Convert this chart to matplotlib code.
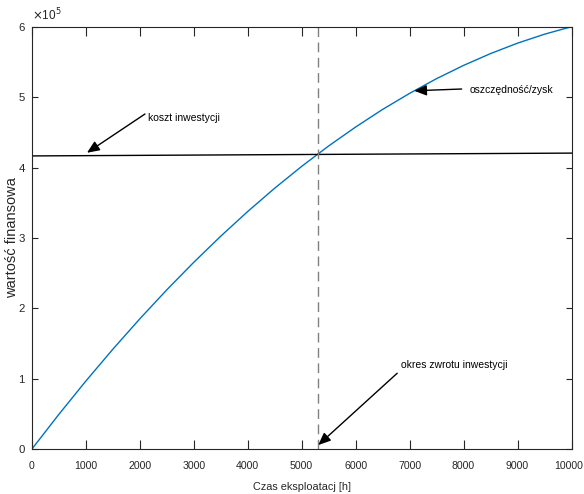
import numpy as np
from matplotlib import pyplot as plt
from matplotlib import transforms

# ===== DATA =====
hours = [0, 500, 1000, 1500, 2000, 2500, 3000, 3500, 4000, 4500, 5000,
         5500, 6000, 6500, 7000, 7500, 8000, 8500, 9000, 9500, 10000]
savings = [0, 49300, 96600, 141800, 185000, 226200, 265300, 302400, 337500,
           370600, 401600, 430600, 457500, 482500, 505300, 526200, 545000,
           561800, 576600, 589300, 600000]
cost_hours = [0, 10000]
cost = [416500, 420500]
payback = 5300

xticks = np.arange(0, 10001, 1000)
yticks = np.arange(0, 600001, 100000)
ylabels = ["0", "1", "2", "3", "4", "5", "6"]

plt.rcParams['font.family'] = ['Liberation Sans', 'DejaVu Sans']
axcol = "#262626"

fig = plt.figure(figsize=(5.84, 4.94), dpi=100)
ax = fig.add_axes([0.0543, 0.0905, 0.9243, 0.8555])

ax.plot(hours, savings, color="#0072BD", lw=1)
ax.plot(cost_hours, cost, color="black", lw=1)
ax.plot([payback, payback], [0, 600000], color="#808080", lw=1, ls=(0, (7, 4)))

ax.set_xlim(0, 10000)
ax.set_ylim(0, 600000)
ax.set_xticks(xticks)
ax.set_yticks(yticks)
ax.set_yticklabels(ylabels)
ax.tick_params(direction="in", top=True, right=True, colors=axcol)
ax.tick_params(axis="x", length=6.5, width=0.8, pad=8.5, labelsize=7.6)
ax.tick_params(axis="y", length=4, width=0.8, pad=5, labelsize=8.2)
for s in ax.spines.values():
    s.set_color(axcol)
    s.set_linewidth(0.8)

# keep the last x tick label inside the figure
last = ax.get_xticklabels()[-1]
last.set_transform(last.get_transform() + transforms.ScaledTranslation(-3 / 100, 0, fig.dpi_scale_trans))

ax.text(0.001, 1.008, r"$\times$10$^5$", transform=ax.transAxes, fontsize=8.5,
        color=axcol, ha="left", va="bottom")
ax.set_xlabel("Czas eksploatacj [h]", fontsize=7.8, color=axcol, labelpad=8)
ax.set_ylabel("wartość finansowa", fontsize=10.5, color=axcol)
ax.yaxis.set_label_coords(-0.024, 0.5)

# ===== ANNOTATIONS =====
arrow = dict(arrowstyle="-|>,head_length=0.75,head_width=0.32", color="black", lw=1,
             shrinkA=0, shrinkB=0)
ax.annotate("", xy=(1024, 421000), xytext=(2098, 476000), arrowprops=arrow)
ax.text(2160, 471000, "koszt inwestycji", fontsize=7.5, va="center", ha="left")

ax.annotate("", xy=(7085, 509000), xytext=(7965, 511500), arrowprops=arrow)
ax.text(8117, 510000, "oszczędność/zysk", fontsize=7.5, va="center", ha="left")

ax.annotate("", xy=(5308, 6000), xytext=(6771, 108000), arrowprops=arrow)
ax.text(6840, 119700, "okres zwrotu inwestycji", fontsize=7.5, va="center", ha="left")

plt.savefig("out.png", dpi=100)
